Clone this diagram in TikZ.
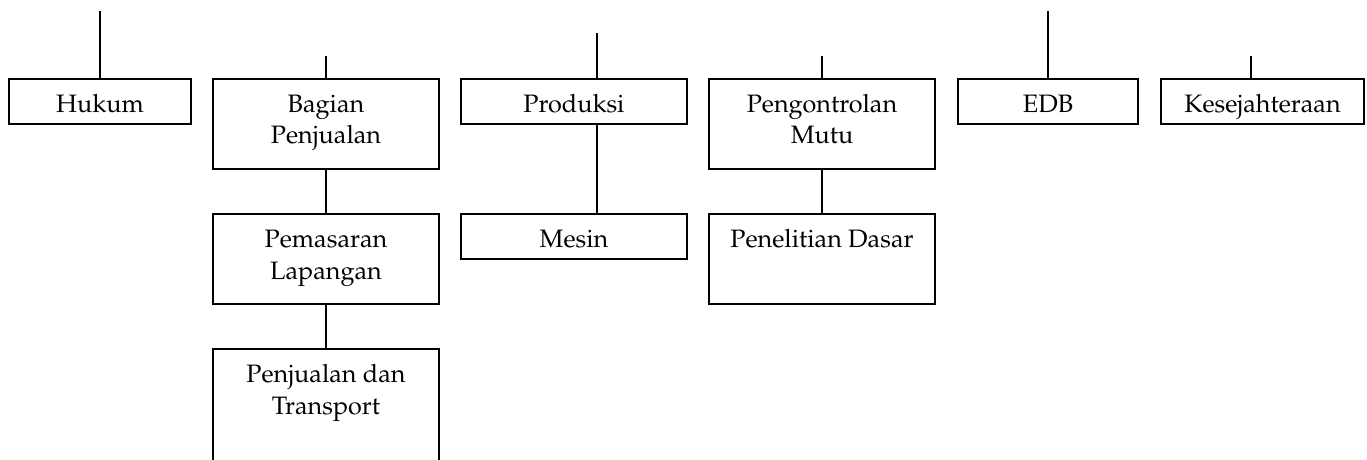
\documentclass[tikz,border=0pt]{standalone}
\usepackage[T1]{fontenc}
\usepackage{mathpazo}
\newcommand{\unittext}[3]{\parbox[c][#2][t]{#1}{\fontsize{12.6pt}{15.65pt}\selectfont\centering\rule{0pt}{16.85pt}#3\par}}
\begin{document}
\begin{tikzpicture}[x=0.5pt,y=-0.5pt,
  unitbox/.style={draw=black, line width=1pt, inner sep=0pt, outer sep=0pt, anchor=north west},
  link/.style={draw=black, line width=1pt}]
\useasboundingbox (0,0) rectangle (1367,460);
\clip (0,0) rectangle (1367,460);

% top row of units
\node[unitbox] (hukum)   at (9,79)    {\unittext{91pt}{22.5pt}{Hukum}};
\node[unitbox] (bagian)  at (213,79)  {\unittext{113pt}{45pt}{Bagian\\Penjualan}};
\node[unitbox] (produksi) at (461,79) {\unittext{113pt}{22.5pt}{Produksi}};
\node[unitbox] (pengontrolan) at (709,79) {\unittext{113pt}{45pt}{Pengontrolan\\Mutu}};
\node[unitbox] (edb)     at (958,79)  {\unittext{90pt}{22.5pt}{EDB}};
\node[unitbox] (kesejahteraan) at (1161,79) {\unittext{101.5pt}{22.5pt}{Kesejahteraan}};

% sub-units
\node[unitbox] (pemasaran)  at (213,214) {\unittext{113pt}{45pt}{Pemasaran\\Lapangan}};
\node[unitbox] (penjualan)  at (213,349) {\unittext{113pt}{60pt}{Penjualan dan\\Transport}};
\node[unitbox] (mesin)      at (461,214) {\unittext{113pt}{22.5pt}{Mesin}};
\node[unitbox] (penelitian) at (709,214) {\unittext{113pt}{45pt}{Penelitian Dasar}};

% free upper ends of the incoming lines
\coordinate (hukumtop) at (100,11);
\coordinate (bagiantop) at (326,56);
\coordinate (prodtop) at (597,33);
\coordinate (pengtop) at (822,56);
\coordinate (edbtop) at (1048,11);
\coordinate (kesejtop) at (1251,56);

\draw[link] (hukumtop) -- (hukumtop |- hukum.north);
\draw[link] (bagiantop) -- (bagiantop |- bagian.north);
\draw[link] (prodtop) -- (prodtop |- produksi.north);
\draw[link] (pengtop) -- (pengtop |- pengontrolan.north);
\draw[link] (edbtop) -- (edbtop |- edb.north);
\draw[link] (kesejtop) -- (kesejtop |- kesejahteraan.north);

\draw[link] (bagian.south) -- (pemasaran.north);
\draw[link] (pemasaran.south) -- (penjualan.north);
\draw[link] (prodtop |- produksi.south) -- (prodtop |- mesin.north);
\draw[link] (pengontrolan.south) -- (penelitian.north);
\end{tikzpicture}
\end{document}
